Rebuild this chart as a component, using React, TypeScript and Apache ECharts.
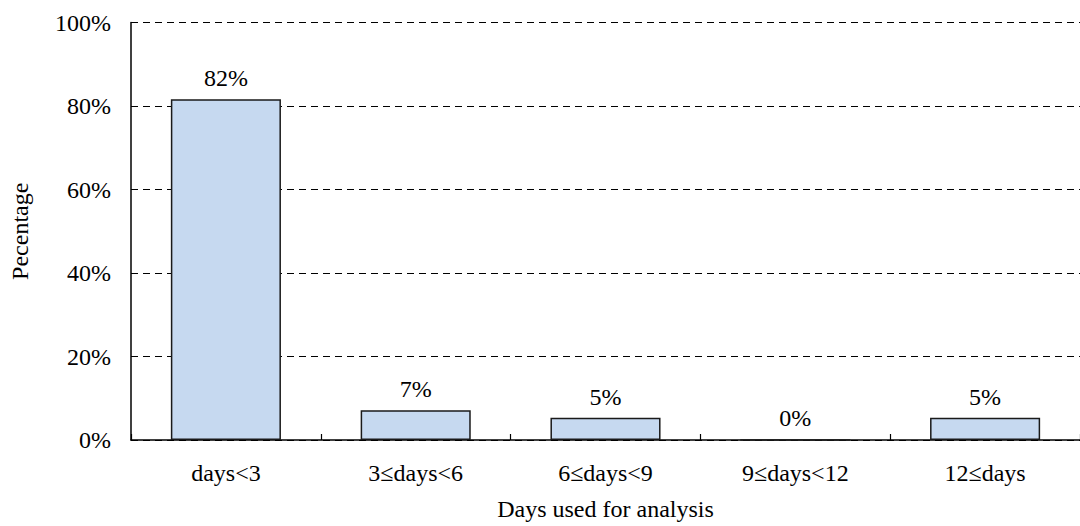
import React, { useEffect, useRef } from "react";
import * as echarts from "echarts";

const categories = ["days<3", "3≤days<6", "6≤days<9", "9≤days<12", "12≤days"];
const percentages = [81.6, 7.1, 5.3, 0, 5.3];
const yTicks = [0, 20, 40, 60, 80, 100];

const FONT = "'Liberation Serif', 'Times New Roman', Times, serif";

export default function App() {
  const ref = useRef<HTMLDivElement>(null);
  useEffect(() => {
    const chart = echarts.init(ref.current!, null, { renderer: "svg" });
    const txt = { fontFamily: FONT, fontSize: 24, color: "#000", fontWeight: "normal" as const };
    chart.setOption({
      animation: false,
      textStyle: { fontFamily: FONT },
      grid: { left: 128.6, top: 22.5, width: 958.5, height: 420, containLabel: false },
      xAxis: {
        type: "category",
        data: categories,
        name: "Days used for analysis",
        nameLocation: "middle",
        nameGap: 57,
        nameTextStyle: { ...txt },
        axisLine: { lineStyle: { color: "#000", width: 1.5 } },
        axisTick: { show: true, inside: true, length: 6, lineStyle: { color: "#000", width: 1.2 } },
        axisLabel: { ...txt, margin: 21 },
      },
      yAxis: {
        type: "value",
        min: 0,
        max: 100,
        interval: 20,
        name: "Pecentage",
        nameLocation: "middle",
        nameGap: 99,
        nameRotate: 90,
        nameTextStyle: { ...txt },
        axisLine: { show: true, lineStyle: { color: "#000", width: 1.5 } },
        axisTick: { show: false },
        axisLabel: {
          ...txt,
          margin: 20,
          formatter: (v: number) => (yTicks.includes(v) ? v + "%" : ""),
        },
        splitLine: { show: true, lineStyle: { color: "#000", type: [7, 5], width: 1.2 } },
      },
      series: [
        {
          type: "bar",
          data: percentages,
          barWidth: "58%",
          itemStyle: { color: "#c6d9f0", borderColor: "#1a1a1a", borderWidth: 1.5 },
          label: {
            show: true,
            position: "top",
            distance: 9,
            ...txt,
            formatter: (p: any) => Math.round(p.value) + "%",
          },
        },
      ],
    });
    return () => chart.dispose();
  }, []);
  return <div ref={ref} style={{ width: 1080, height: 526, position: "absolute", left: 0, top: 0 }} />;
}
